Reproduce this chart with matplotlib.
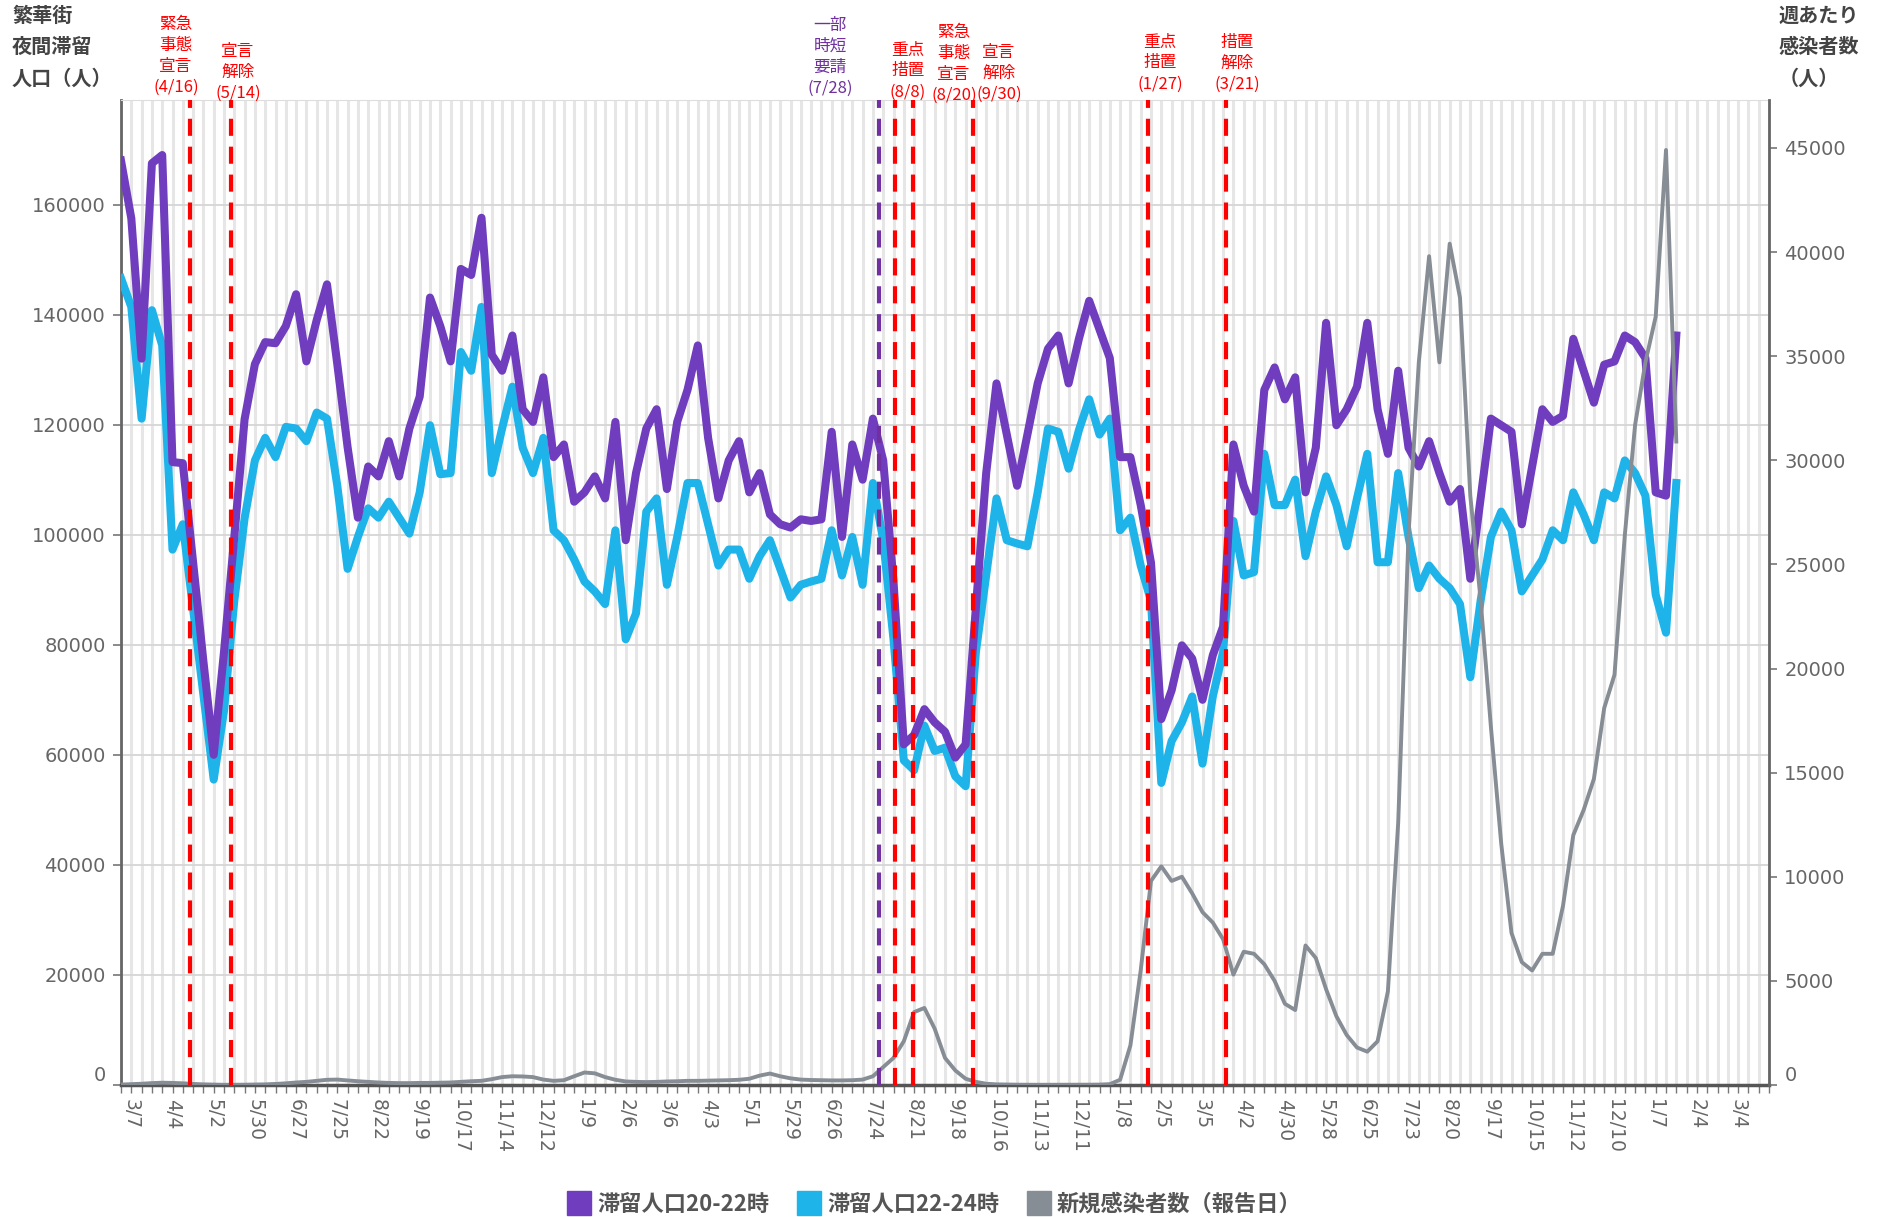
import matplotlib
matplotlib.use('Agg')
import matplotlib.pyplot as plt
import matplotlib.dates as mdates
from matplotlib.lines import Line2D
import pandas as pd

plt.rcParams['font.family'] = ['Noto Sans CJK JP', 'DejaVu Sans']

# weekly data, first week 2020/2/29
weeks = pd.date_range('2020-02-29', periods=152, freq='7D')

# nighttime population in entertainment districts, 20-22h
stay_20_22 = [
    168000, 157500, 132000, 167500, 169000, 113200, 113000, 95000, 77000, 60000,
    78700, 99600, 121000, 131000, 135000, 134800, 137900, 143700, 131500, 139000,
    145500, 131000, 115900, 103100, 112400, 110600, 117000, 110600, 119300, 125100,
    143100, 137900, 131500, 148300, 147200, 157600, 132700, 129800, 136200, 122800,
    120500, 128600, 114100, 116400, 106000, 107700, 110600, 106600, 120500, 99000,
    111200, 119300, 122800, 108300, 120500, 126300, 134400, 117600, 106600, 113500,
    117000, 107700, 111200, 103700, 101900, 101300, 102800, 102500, 102800, 118700,
    99600, 116400, 110000, 121100, 113500, 91500, 61900, 63600, 68300, 65900,
    64200, 59500, 61900, 86800, 111200, 127500, 118200, 108900, 118200, 127500,
    133800, 136200, 127500, 135600, 142500, 137300, 132100, 114100, 114100, 105400,
    94900, 66500, 71700, 79900, 77500, 70000, 78100, 83300, 116400, 108900,
    104200, 126300, 130400, 124600, 128600, 107700, 115800, 138500, 119900, 122800,
    126900, 138500, 122800, 114700, 129800, 115800, 112400, 117000, 111200, 106000,
    108300, 92000, 106600, 121100, 119900, 118700, 101900, 112400, 122800, 120500,
    121600, 135600, 129800, 124000, 130900, 131500, 136200, 135000, 132100, 107700,
    107100, 136200]

# 22-24h
stay_22_24 = [
    146600, 141400, 121100, 140800, 134400, 97300, 101900, 86500, 70900, 55500,
    68000, 88000, 103000, 113500, 117600, 114100, 119600, 119300, 117000, 122200,
    121100, 108900, 93800, 99600, 104800, 103100, 106000, 103100, 100200, 107700,
    119900, 111000, 111200, 133200, 129800, 141400, 111200, 119300, 126900, 115800,
    111200, 117600, 100800, 99000, 95500, 91500, 89700, 87400, 100800, 81000,
    85700, 104200, 106600, 90900, 99600, 109400, 109400, 101900, 94400, 97300,
    97300, 92000, 96100, 99000, 93800, 88600, 90900, 91500, 92000, 100800,
    92600, 99600, 90900, 109400, 99000, 81000, 59000, 57200, 65300, 60700,
    61300, 56100, 54300, 78700, 92600, 106600, 99000, 98400, 97900, 107700,
    119300, 118700, 112000, 119000, 124600, 118200, 121100, 100800, 103100, 94400,
    88000, 54900, 62500, 65900, 70600, 58400, 70600, 78700, 102500, 92600,
    93200, 114700, 105400, 105400, 110000, 96100, 104200, 110600, 105400, 97900,
    106600, 114700, 95000, 95000, 111200, 99600, 90300, 94400, 92000, 90300,
    87400, 74100, 88000, 99600, 104200, 100800, 89700, 92600, 95500, 100800,
    99000, 107700, 103700, 99000, 107700, 106600, 113500, 111200, 107100, 89100,
    82200, 109400]

# new cases per week (right axis)
new_cases = [
    20, 40, 60, 90, 110, 100, 80, 50, 30, 20,
    10, 10, 15, 20, 30, 50, 80, 120, 150, 200,
    250, 260, 220, 180, 150, 120, 100, 90, 90, 100,
    100, 110, 120, 150, 180, 200, 280, 380, 420, 410,
    380, 260, 200, 230, 420, 600, 560, 380, 250, 170,
    150, 140, 150, 170, 180, 200, 200, 210, 220, 230,
    250, 300, 450, 550, 420, 320, 260, 240, 230, 220,
    220, 230, 260, 420, 860, 1300, 2100, 3500, 3700, 2700,
    1300, 700, 300, 150, 60, 30, 20, 15, 10, 10,
    10, 10, 10, 10, 15, 20, 40, 250, 1900, 5500,
    9800, 10500, 9800, 10000, 9200, 8300, 7800, 7000, 5300, 6400,
    6300, 5800, 5000, 3900, 3600, 6700, 6100, 4600, 3300, 2400,
    1800, 1600, 2100, 4500, 12600, 26400, 34700, 39800, 34700, 40400,
    37800, 28300, 23300, 17200, 11600, 7300, 5900, 5500, 6300, 6300,
    8600, 12000, 13200, 14700, 18100, 19700, 26400, 31700, 34700, 36900,
    44900, 30900]

tick_dates = pd.date_range('2020-03-07', '2023-03-04', freq='28D')
tick_labels = [f'{d.month}/{d.day}' for d in tick_dates]

event_dates = ['2020-04-16', '2020-05-14', '2021-07-28', '2021-08-08',
               '2021-08-20', '2021-09-30', '2022-01-27', '2022-03-21']
event_labels = ['緊急\n事態\n宣言\n(4/16)', '宣言\n解除\n(5/14)', '一部\n時短\n要請\n(7/28)',
                '重点\n措置\n(8/8)', '緊急\n事態\n宣言\n(8/20)', '宣言\n解除\n(9/30)',
                '重点\n措置\n(1/27)', '措置\n解除\n(3/21)']
event_colors = ['#ff0000', '#ff0000', '#7030a0', '#ff0000',
                '#ff0000', '#ff0000', '#ff0000', '#ff0000']
# label centres in figure pixels
label_pos = [(176, 56), (238, 72), (830, 57), (908, 71),
             (954, 64), (999, 73), (1160, 63), (1237, 63)]

W, H = 1879, 1217
fig = plt.figure(figsize=(W / 100, H / 100), dpi=100)
ax = fig.add_axes([121 / W, 1 - 1085 / H, (1769 - 121) / W, (1085 - 100) / H])
ax2 = ax.twinx()

purple = '#6f3dbd'
cyan = '#1eb4ea'
grey = '#878d94'

ax.plot(weeks, stay_22_24, color=cyan, lw=5.8, solid_joinstyle='round', zorder=3)
ax.plot(weeks, stay_20_22, color=purple, lw=5.8, solid_joinstyle='round', zorder=4)
ax2.plot(weeks, new_cases, color=grey, lw=2.8, solid_joinstyle='round', zorder=3)

for d, c in zip(event_dates, event_colors):
    ax2.axvline(pd.Timestamp(d), color=c, lw=3, dashes=(4.1, 2.6), zorder=6)

x0 = mdates.date2num(weeks[0])
ax.set_xlim(x0, x0 + 159.4 * 7)
ax.set_ylim(0, 179000)
ax2.set_ylim(0, 47300)

ax.set_xticks(tick_dates)
ax.set_xticklabels(tick_labels, rotation=270, fontsize=13.5, color='#666666',
                   family='DejaVu Sans')
ax.set_xticks(mdates.date2num(pd.date_range('2020-02-29', '2023-03-25', freq='7D')), minor=True)
ax.tick_params(axis='x', which='both', length=6, width=1, color='#777777', pad=4)

ax.set_yticks(range(0, 160001, 20000))
ax.set_yticklabels([str(v) for v in range(0, 160001, 20000)], fontsize=14,
                   color='#666666', family='DejaVu Sans')
ax2.set_yticks(range(0, 45001, 5000))
ax2.set_yticklabels([str(v) for v in range(0, 45001, 5000)], fontsize=14,
                    color='#666666', family='DejaVu Sans')
ax.tick_params(axis='y', length=6, width=1.2, color='#777777', pad=5)
ax2.tick_params(axis='y', length=6, width=1.2, color='#777777', pad=5)
ax.get_yticklabels()[0].set_verticalalignment('bottom')
ax2.get_yticklabels()[0].set_verticalalignment('bottom')

ax.grid(axis='y', color='#d6d6d6', lw=1.3)
ax.grid(axis='x', which='both', color='#e6e6e6', lw=2.2)
ax.set_axisbelow(True)

ax.spines['top'].set_color('#dddddd')
ax.spines['right'].set_visible(False)
ax.spines['left'].set_color('#666666')
ax.spines['left'].set_linewidth(2)
ax.spines['bottom'].set_color('#555555')
ax.spines['bottom'].set_linewidth(2.5)
for s in ['left', 'top', 'bottom']:
    ax2.spines[s].set_visible(False)
ax2.spines['right'].set_color('#666666')
ax2.spines['right'].set_linewidth(2)

# event labels above the plot
for (px, py), txt, c in zip(label_pos, event_labels, event_colors):
    fig.text(px / W, 1 - py / H, txt, color=c, fontsize=12, ha='center', va='center',
             linespacing=1.3)

# axis titles
fig.text(12 / W, 1 - 5 / H, '繁華街\n夜間滞留\n人口（人）', fontsize=14.5, fontweight='bold',
         color='#444444', ha='left', va='top', linespacing=1.6)
fig.text(1779 / W, 1 - 5 / H, '週あたり\n感染者数\n（人）', fontsize=14.5, fontweight='bold',
         color='#444444', ha='left', va='top', linespacing=1.6)

handles = [Line2D([], [], marker='s', ls='none', markersize=17, color=purple),
           Line2D([], [], marker='s', ls='none', markersize=17, color=cyan),
           Line2D([], [], marker='s', ls='none', markersize=17, color=grey)]
leg = fig.legend(handles, ['滞留人口20-22時', '滞留人口22-24時', '新規感染者数（報告日）'],
                 loc='center', bbox_to_anchor=(935 / W, 1 - 1204 / H), ncol=3, frameon=False,
                 prop={'size': 16, 'weight': 'bold'}, handletextpad=0.3, columnspacing=1.3,
                 handlelength=1.0)
for t in leg.get_texts():
    t.set_color('#555555')

fig.savefig('out.png', dpi=100)
